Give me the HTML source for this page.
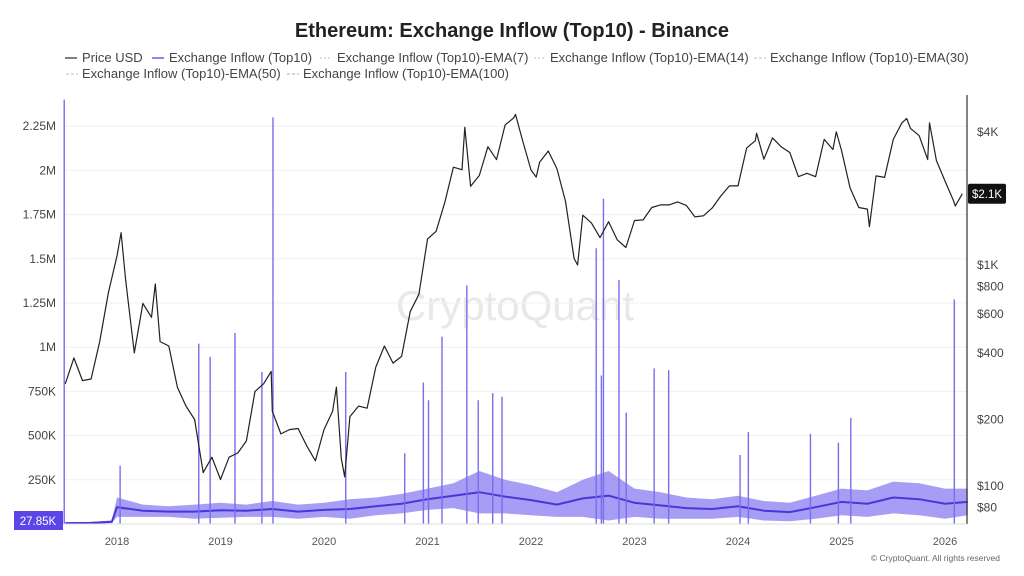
<!DOCTYPE html>
<html><head><meta charset="utf-8">
<style>
body{margin:0;background:#fff;font-family:"Liberation Sans",sans-serif;}
svg{display:block}
</style></head>
<body>
<svg id="chart" width="1024" height="576" viewBox="0 0 1024 576" xmlns="http://www.w3.org/2000/svg">
<rect width="1024" height="576" fill="#fff"/>
<text x="512" y="37" text-anchor="middle" font-size="20" font-weight="bold" fill="#222">Ethereum: Exchange Inflow (Top10) - Binance</text>
<g font-size="13" fill="#444">
 <g><line x1="65" y1="58" x2="77" y2="58" stroke="#555" stroke-width="1.5"/><text x="82" y="62">Price USD</text></g>
 <g><line x1="152" y1="58" x2="164" y2="58" stroke="#6b5ce7" stroke-width="1.5"/><text x="169" y="62">Exchange Inflow (Top10)</text></g>
 <g><line x1="320" y1="58" x2="332" y2="58" stroke="#bbb" stroke-dasharray="2 2"/><text x="337" y="62">Exchange Inflow (Top10)-EMA(7)</text></g>
 <g><line x1="534" y1="58" x2="546" y2="58" stroke="#bbb" stroke-dasharray="2 2"/><text x="550" y="62">Exchange Inflow (Top10)-EMA(14)</text></g>
 <g><line x1="754" y1="58" x2="766" y2="58" stroke="#bbb" stroke-dasharray="3 2"/><text x="770" y="62">Exchange Inflow (Top10)-EMA(30)</text></g>
 <g><line x1="66" y1="74" x2="78" y2="74" stroke="#bbb" stroke-dasharray="3 2"/><text x="82" y="78">Exchange Inflow (Top10)-EMA(50)</text></g>
 <g><line x1="287" y1="74" x2="299" y2="74" stroke="#aab" stroke-dasharray="3 2"/><text x="303" y="78">Exchange Inflow (Top10)-EMA(100)</text></g>
</g>
<text x="515" y="320" text-anchor="middle" font-size="42" fill="#e8e8ea">CryptoQuant</text>
<g id="grid"></g>
<g id="inflow"></g>
<g id="price"></g>
<g id="axes"></g>
<text x="1000" y="561" text-anchor="end" font-size="8.5" fill="#666">© CryptoQuant. All rights reserved</text>
</svg>
<script>
const priceStart = 2017.5;
const priceMonthly = [290,380,300,305,450,750,
1100,860,400,670,580,450,430,280,230,200,115,135,
107,135,141,160,268,290,218,172,180,182,152,130,
180,218,133,206,230,225,345,430,360,386,615,737,
1310,1420,1920,2770,2700,2270,2540,3430,3000,4300,4630,3680,
2690,2920,3280,2730,1940,1070,1680,1550,1330,1570,1300,1200,
1590,1600,1820,1870,1870,1930,1860,1650,1670,1810,2050,2280,
2280,3380,3650,3010,3760,3430,3230,2510,2600,2510,3700,3330,
3300,2230,1820,1790,2530,2490,3700,4400,4150,3850,3000,2970,
2400,1950,2100];
const priceExtraTimes = [2018.04,2018.37,2019.49,2020.12,2020.2,2021.36,2021.85,2022.05,2022.45,2024.18,2024.95,2025.27,2025.63,2025.85,2026.1];
const priceExtraValues = [1400,820,330,280,110,4200,4800,2500,1000,3950,4000,1490,4600,4400,1850];
const bandTimes = [2017.5,2017.75,2017.95,2018.0,2018.25,2018.5,2018.75,2019.0,2019.25,2019.5,2019.75,2020.0,2020.25,2020.5,2020.75,2021.0,2021.25,2021.5,2021.75,2022.0,2022.25,2022.5,2022.75,2023.0,2023.25,2023.5,2023.75,2024.0,2024.25,2024.5,2024.75,2025.0,2025.25,2025.5,2025.75,2026.0,2026.22];
const inflowLow = [0,0,5,40,40,40,30,35,40,40,30,40,30,50,60,80,90,60,60,50,40,40,20,40,30,30,30,40,20,15,30,50,40,60,50,30,50];
const inflowHigh = [10,12,20,150,110,100,110,120,110,130,110,120,140,150,170,200,230,300,250,220,180,250,300,200,180,150,140,160,130,120,160,200,190,240,230,200,200];
const spikeTimes = [2017.49,2018.03,2018.79,2018.90,2019.14,2019.40,2019.507,2020.21,2020.78,2020.96,2021.01,2021.14,2021.38,2021.49,2021.63,2021.72,2022.63,2022.68,2022.70,2022.85,2022.92,2023.19,2023.33,2024.02,2024.10,2024.70,2024.97,2025.09,2026.09];
const spikeValues = [2400,330,1020,945,1080,860,2300,860,400,800,700,1060,1350,700,740,720,1560,840,1840,1380,630,880,870,390,520,510,460,600,1270];
const leftTicks = [250,500,750,1000,1250,1500,1750,2000,2250];
const leftLabels = ["250K","500K","750K","1M","1.25M","1.5M","1.75M","2M","2.25M"];
const rightTicks = [80,100,200,400,600,800,1000,4000];
const rightLabels = ["$80","$100","$200","$400","$600","$800","$1K","$4K"];
const yearTicks = [2018,2019,2020,2021,2022,2023,2024,2025,2026];

const NS="http://www.w3.org/2000/svg";
const X0=63,X1=967,Y0=95,Y1=524;
const xs=t=>117+(t-2018)*103.5;
const yl=v=>524-v/250*44.2;
const yr=p=>486-221*Math.log10(p/100);
function mk(tag,attrs,parent){const e=document.createElementNS(NS,tag);for(const k in attrs)e.setAttribute(k,attrs[k]);parent.appendChild(e);return e;}
const grid=document.getElementById('grid'),inf=document.getElementById('inflow'),pr=document.getElementById('price'),ax=document.getElementById('axes');

leftTicks.forEach((v,i)=>{
  const g=mk('line',{x1:X0,x2:X1,y1:yl(v),y2:yl(v),stroke:'#f0f0f0'},grid);
  
  
  const t=mk('text',{x:56,y:yl(v)+4,'text-anchor':'end','font-size':12,fill:'#444'},ax);
  t.textContent=leftLabels[i];
  
  
});
rightTicks.forEach((v,i)=>{
  const t=mk('text',{x:977,y:yr(v)+4,'font-size':12,fill:'#444'},ax);
  t.textContent=rightLabels[i];
  
  
});
yearTicks.forEach(y=>{
  const t=mk('text',{x:xs(y),y:545,'text-anchor':'middle','font-size':11,fill:'#555'},ax);
  t.textContent=String(y);
  
  
});
const ra=mk('line',{x1:X1,x2:X1,y1:Y0,y2:Y1,stroke:'#333','stroke-width':1.2},ax);


const ba=mk('line',{x1:X0,x2:X1,y1:Y1,y2:Y1,stroke:'#ddd'},ax);



let up=[],dn=[];
bandTimes.forEach((t,i)=>{up.push(xs(t).toFixed(1)+','+yl(inflowHigh[i]).toFixed(1));dn.unshift(xs(t).toFixed(1)+','+yl(inflowLow[i]).toFixed(1));});
const band=mk('polygon',{points:up.concat(dn).join(' '),fill:'#8a7cf0','fill-opacity':0.75},inf);


const mid=bandTimes.map((t,i)=>xs(t).toFixed(1)+','+yl((inflowLow[i]+inflowHigh[i])/2).toFixed(1)).join(' ');
const ml=mk('polyline',{points:mid,fill:'none',stroke:'#4a36d8','stroke-width':2},inf);


spikeTimes.forEach((t,i)=>{
  const s=mk('line',{x1:xs(t),x2:xs(t),y1:Y1,y2:yl(spikeValues[i]),stroke:'#7a6cf0','stroke-width':1.4},inf);
  
  
});
let series=priceMonthly.map((p,i)=>[priceStart+i/12,p]);
priceExtraTimes.forEach((t,i)=>series.push([t,priceExtraValues[i]]));
series.sort((a,b)=>a[0]-b[0]);
const pts=series.map(d=>xs(d[0]).toFixed(1)+','+yr(d[1]).toFixed(1)).join(' ');
const pl=mk('polyline',{points:pts,fill:'none',stroke:'#222','stroke-width':1.2,'stroke-linejoin':'round'},pr);


const last=priceMonthly[priceMonthly.length-1];
const bg=mk('g',{},ax);


mk('rect',{x:968,y:yr(last)-10,width:38,height:20,rx:2,fill:'#111'},bg);
const bt=mk('text',{x:987,y:yr(last)+4,'text-anchor':'middle','font-size':11.5,fill:'#fff'},bg);
bt.textContent='$2.1K';
const lb=mk('g',{},ax);


mk('rect',{x:14,y:511,width:49,height:19,fill:'#5b45e8'},lb);
const lt=mk('text',{x:38,y:525,'text-anchor':'middle','font-size':11.5,fill:'#fff'},lb);
lt.textContent='27.85K';
</script>
</body></html>
